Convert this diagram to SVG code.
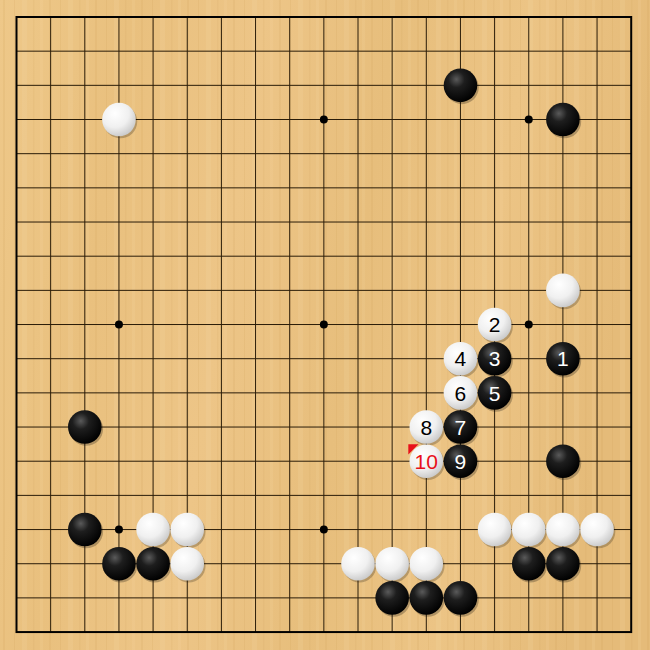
<svg xmlns="http://www.w3.org/2000/svg" xmlns:xlink="http://www.w3.org/1999/xlink" width="650" height="650" viewBox="0 0 650 650">
<defs>
<linearGradient id="wood" x1="0" y1="0" x2="1" y2="0.15">
<stop offset="0" stop-color="#eec889"/>
<stop offset="0.2" stop-color="#e9c07e"/>
<stop offset="0.4" stop-color="#edc587"/>
<stop offset="0.6" stop-color="#e7be7c"/>
<stop offset="0.8" stop-color="#ecc485"/>
<stop offset="1" stop-color="#e5bb79"/>
</linearGradient>
<pattern id="grain" width="46" height="650" patternUnits="userSpaceOnUse">
<rect x="3" y="0" width="2" height="650" fill="#c9964f" opacity="0.12"/>
<rect x="14" y="0" width="1" height="650" fill="#c9964f" opacity="0.15"/>
<rect x="22" y="0" width="5" height="650" fill="#f7dba8" opacity="0.18"/>
<rect x="33" y="0" width="1.5" height="650" fill="#c9964f" opacity="0.1"/>
<rect x="40" y="0" width="3" height="650" fill="#f7dba8" opacity="0.14"/>
</pattern>
<radialGradient id="gb" cx="0.38" cy="0.32" r="0.7">
<stop offset="0" stop-color="#5a5a5a"/>
<stop offset="0.35" stop-color="#1e1e1e"/>
<stop offset="1" stop-color="#000"/>
</radialGradient>
<radialGradient id="gw" cx="0.38" cy="0.32" r="0.75">
<stop offset="0" stop-color="#ffffff"/>
<stop offset="0.55" stop-color="#f0f0f0"/>
<stop offset="1" stop-color="#c4c4c4"/>
</radialGradient>
<symbol id="B" overflow="visible">
<circle cx="1.5" cy="2" r="16.8" fill="#000" opacity="0.25"/>
<circle cx="0" cy="0" r="16.8" fill="url(#gb)"/>
</symbol>
<symbol id="W" overflow="visible">
<circle cx="1.5" cy="2" r="16.8" fill="#000" opacity="0.22"/>
<circle cx="0" cy="0" r="16.8" fill="url(#gw)"/>
</symbol>
</defs>
<style>
.ln{stroke:#2a1c08;stroke-width:1;fill:none}
.bd{stroke:#000;stroke-width:2;fill:none}
.num{font-family:"Liberation Sans",Arial,sans-serif;font-size:21px;text-anchor:middle}
.nb{fill:#fff}
.nw{fill:#000}
.nr{fill:#e8101a}
</style>
<rect width="650" height="650" fill="url(#wood)"/>
<rect width="650" height="650" fill="url(#grain)"/>
<g id="grid">
<path class="ln" d="M16.5 51.17H631.2M16.5 85.34H631.2M16.5 119.51H631.2M16.5 153.68H631.2M16.5 187.85H631.2M16.5 222.02H631.2M16.5 256.19H631.2M16.5 290.36H631.2M16.5 324.53H631.2M16.5 358.7H631.2M16.5 392.87H631.2M16.5 427.04H631.2M16.5 461.21H631.2M16.5 495.38H631.2M16.5 529.55H631.2M16.5 563.72H631.2M16.5 597.89H631.2"/>
<path class="ln" d="M50.65 17V632.06M84.8 17V632.06M118.95 17V632.06M153.1 17V632.06M187.25 17V632.06M221.4 17V632.06M255.55 17V632.06M289.7 17V632.06M323.85 17V632.06M358 17V632.06M392.15 17V632.06M426.3 17V632.06M460.45 17V632.06M494.6 17V632.06M528.75 17V632.06M562.9 17V632.06M597.05 17V632.06"/>
<rect class="bd" x="16.5" y="17" width="614.7" height="615.06"/>
<g fill="#000">
<circle cx="118.95" cy="119.51" r="4"/><circle cx="323.85" cy="119.51" r="4"/><circle cx="528.75" cy="119.51" r="4"/>
<circle cx="118.95" cy="324.53" r="4"/><circle cx="323.85" cy="324.53" r="4"/><circle cx="528.75" cy="324.53" r="4"/>
<circle cx="118.95" cy="529.55" r="4"/><circle cx="323.85" cy="529.55" r="4"/><circle cx="528.75" cy="529.55" r="4"/>
</g>
</g>
<g id="black-stones">
<use xlink:href="#B" x="460.45" y="85.34"/>
<use xlink:href="#B" x="562.9" y="119.51"/>
<use xlink:href="#B" x="84.8" y="427.04"/>
<use xlink:href="#B" x="562.9" y="461.21"/>
<use xlink:href="#B" x="84.8" y="529.55"/>
<use xlink:href="#B" x="118.95" y="563.72"/>
<use xlink:href="#B" x="153.1" y="563.72"/>
<use xlink:href="#B" x="392.15" y="597.89"/>
<use xlink:href="#B" x="426.3" y="597.89"/>
<use xlink:href="#B" x="460.45" y="597.89"/>
<use xlink:href="#B" x="528.75" y="563.72"/>
<use xlink:href="#B" x="562.9" y="563.72"/>
</g>
<g id="white-stones">
<use xlink:href="#W" x="118.95" y="119.51"/>
<use xlink:href="#W" x="562.9" y="290.36"/>
<use xlink:href="#W" x="153.1" y="529.55"/>
<use xlink:href="#W" x="187.25" y="529.55"/>
<use xlink:href="#W" x="187.25" y="563.72"/>
<use xlink:href="#W" x="358" y="563.72"/>
<use xlink:href="#W" x="392.15" y="563.72"/>
<use xlink:href="#W" x="426.3" y="563.72"/>
<use xlink:href="#W" x="494.6" y="529.55"/>
<use xlink:href="#W" x="528.75" y="529.55"/>
<use xlink:href="#W" x="562.9" y="529.55"/>
<use xlink:href="#W" x="597.05" y="529.55"/>
</g>
<g id="move-1"><use xlink:href="#B" x="562.9" y="358.7"/><text class="num nb" x="562.9" y="366.3">1</text></g>
<g id="move-2"><use xlink:href="#W" x="494.6" y="324.53"/><text class="num nw" x="494.6" y="332.1">2</text></g>
<g id="move-3"><use xlink:href="#B" x="494.6" y="358.7"/><text class="num nb" x="494.6" y="366.3">3</text></g>
<g id="move-4"><use xlink:href="#W" x="460.45" y="358.7"/><text class="num nw" x="460.45" y="366.3">4</text></g>
<g id="move-5"><use xlink:href="#B" x="494.6" y="392.87"/><text class="num nb" x="494.6" y="400.5">5</text></g>
<g id="move-6"><use xlink:href="#W" x="460.45" y="392.87"/><text class="num nw" x="460.45" y="400.5">6</text></g>
<g id="move-7"><use xlink:href="#B" x="460.45" y="427.04"/><text class="num nb" x="460.45" y="434.6">7</text></g>
<g id="move-8"><use xlink:href="#W" x="426.3" y="427.04"/><text class="num nw" x="426.3" y="434.6">8</text></g>
<g id="move-9"><use xlink:href="#B" x="460.45" y="461.21"/><text class="num nb" x="460.45" y="468.8">9</text></g>
<g id="move-10"><use xlink:href="#W" x="426.3" y="461.21"/><text class="num nr" x="426.3" y="468.8">10</text><path d="M408.3 444.3H418.5L408.3 454.5Z" fill="#e8101a"/></g>
</svg>
